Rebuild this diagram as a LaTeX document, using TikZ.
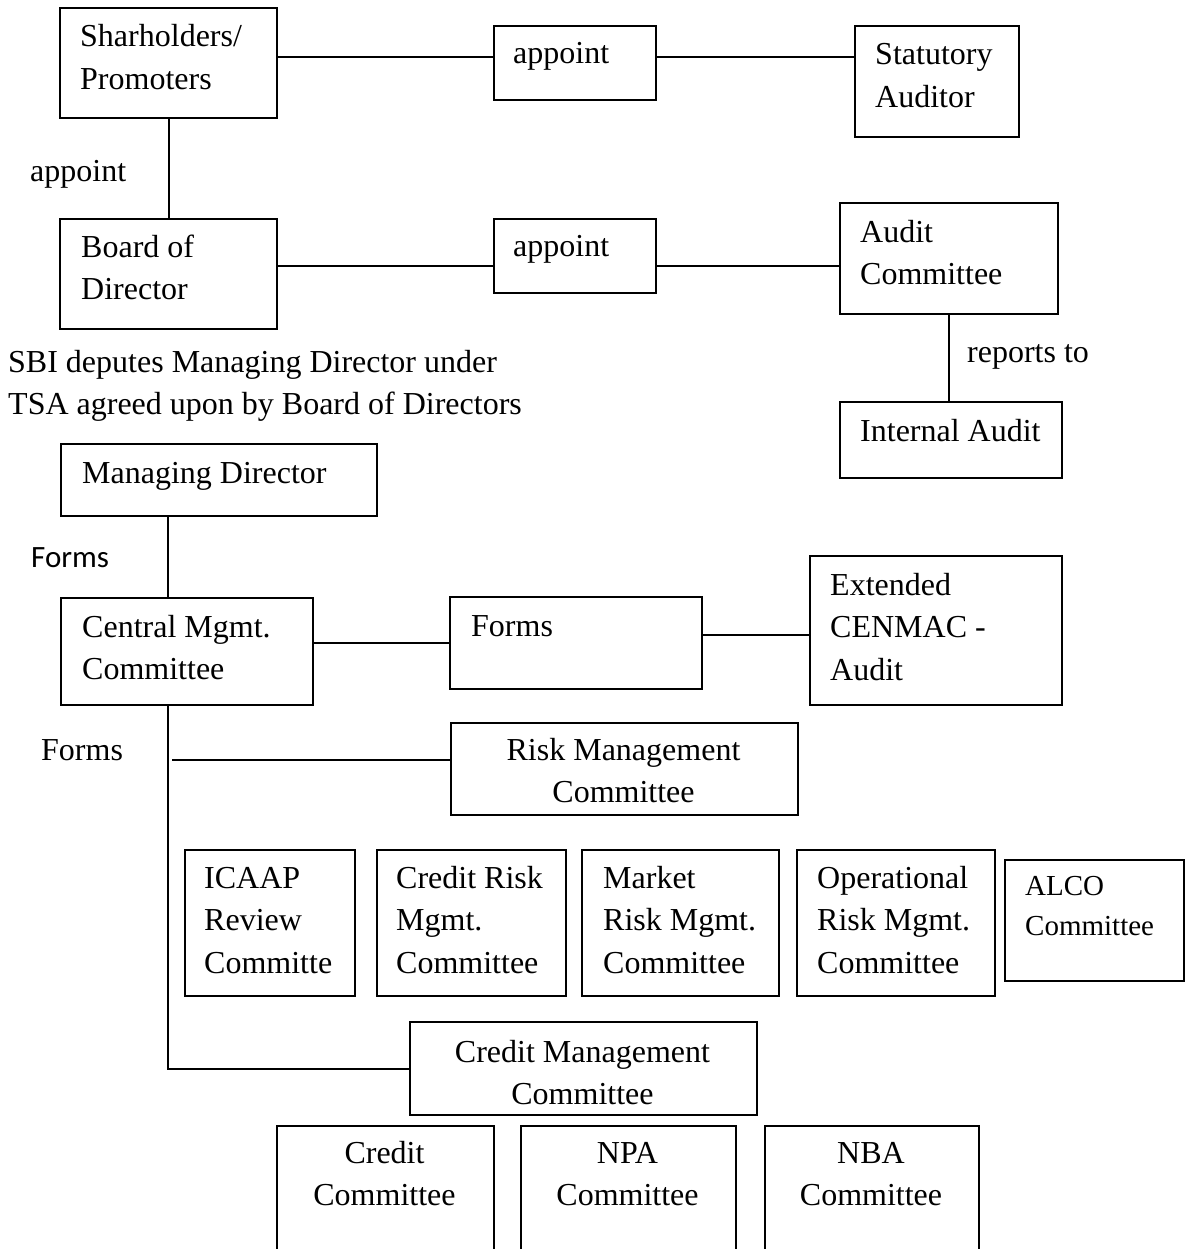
\documentclass[tikz,border=0pt]{standalone}
\usepackage{fontspec}
\setmainfont{Liberation Serif}
\newfontfamily\calfont{Carlito}
\newcommand\fsa{\fontsize{32}{42.5}\selectfont}
\newcommand\fsb{\fontsize{29}{40}\selectfont}
\begin{document}
\begin{tikzpicture}[x=1pt,y=-1pt,
  box/.style={draw,line width=2pt,inner sep=0pt,anchor=north west},
  lnk/.style={line width=2pt},
  txt/.style={anchor=base west,align=left,inner sep=0pt,font=\fsa},
  ctxt/.style={anchor=base,align=center,inner sep=0pt,font=\fsa}]
\useasboundingbox (0,0) rectangle (1189,1249);
% boxes
\node[box,minimum width=217pt,minimum height=110pt] (sh) at (59,7) {};
\node[box,minimum width=162pt,minimum height=74pt] (ap1) at (493,25) {};
\node[box,minimum width=164pt,minimum height=111pt] (sa) at (854,25) {};
\node[box,minimum width=217pt,minimum height=110pt] (bd) at (59,218) {};
\node[box,minimum width=162pt,minimum height=74pt] (ap2) at (493,218) {};
\node[box,minimum width=218pt,minimum height=111pt] (ac) at (839,202) {};
\node[box,minimum width=222pt,minimum height=76pt] (ia) at (839,401) {};
\node[box,minimum width=316pt,minimum height=72pt] (md) at (60,443) {};
\node[box,minimum width=252pt,minimum height=107pt] (cmc) at (60,597) {};
\node[box,minimum width=252pt,minimum height=92pt] (fm) at (449,596) {};
\node[box,minimum width=252pt,minimum height=149pt] (ext) at (809,555) {};
\node[box,minimum width=347pt,minimum height=92pt] (rmc) at (450,722) {};
\node[box,minimum width=170pt,minimum height=146pt] (icaap) at (184,849) {};
\node[box,minimum width=189pt,minimum height=146pt] (crm) at (376,849) {};
\node[box,minimum width=197pt,minimum height=146pt] (mrm) at (581,849) {};
\node[box,minimum width=198pt,minimum height=146pt] (orm) at (796,849) {};
\node[box,minimum width=179pt,minimum height=121pt] (alco) at (1004,859) {};
\node[box,minimum width=347pt,minimum height=93pt] (crmc) at (409,1021) {};
\node[box,minimum width=217pt,minimum height=170pt] (cc) at (276,1125) {};
\node[box,minimum width=215pt,minimum height=170pt] (npa) at (520,1125) {};
\node[box,minimum width=214pt,minimum height=170pt] (nba) at (764,1125) {};
% texts (anchor = baseline of the last line)
\node[txt] (tsh) at (80,89.5) {Sharholders/\\Promoters};
\node[txt] (tap1) at (513,64) {appoint};
\node[txt] (tsa) at (875,107.5) {Statutory\\Auditor};
\node[txt] (tbd) at (81,299.5) {Board of\\Director};
\node[txt] (tap2) at (513,257) {appoint};
\node[txt] (tac) at (860,284.5) {Audit\\Committee};
\node[txt] (tia) at (860,441) {Internal Audit};
\node[txt] (lap) at (30,182) {appoint};
\node[txt] (lrep) at (967,362) {reports to};
\node[txt] (lsbi) at (8,414.5) {SBI deputes Managing Director under\\TSA agreed upon by Board of Directors};
\node[txt] (tmd) at (82,483) {Managing Director};
\node[txt,font=\calfont\fontsize{31}{40}\selectfont] (lf1) at (31,567) {Forms};
\node[txt] (tcmc) at (82,679.5) {Central Mgmt.\\Committee};
\node[txt] (tfm) at (471,636) {Forms};
\node[txt] (text) at (830,680) {Extended\\CENMAC -\\Audit};
\node[txt] (lf2) at (41,760) {Forms};
\node[ctxt] (trmc) at (623.5,802.5) {Risk Management\\Committee};
\node[txt] (ticaap) at (204,973) {ICAAP\\Review\\Committe};
\node[txt] (tcrm) at (396,973) {Credit Risk\\Mgmt.\\Committee};
\node[txt] (tmrm) at (603,973) {Market\\Risk Mgmt.\\Committee};
\node[txt] (torm) at (817,973) {Operational\\Risk Mgmt.\\Committee};
\node[txt,font=\fsb] (talco) at (1025,935) {ALCO\\Committee};
\node[ctxt] (tcrmc) at (582.5,1104.5) {Credit Management\\Committee};
\node[ctxt] (tcc) at (384.5,1205.5) {Credit\\Committee};
\node[ctxt] (tnpa) at (627.5,1205.5) {NPA\\Committee};
\node[ctxt] (tnba) at (871,1205.5) {NBA\\Committee};
% connectors
\draw[lnk] (sh.east |- 0,57) -- (ap1.west |- 0,57);
\draw[lnk] (ap1.east |- 0,57) -- (sa.west |- 0,57);
\draw[lnk] (sh.south) -- (bd.north);
\draw[lnk] (bd.east |- 0,266) -- (ap2.west |- 0,266);
\draw[lnk] (ap2.east |- 0,266) -- (ac.west |- 0,266);
\draw[lnk] (ac.south) -- (ac.south |- ia.north);
\draw[lnk] ([xshift=108pt]md.south west) -- ([xshift=108pt]cmc.north west);
\draw[lnk] (cmc.east |- 0,643) -- (fm.west |- 0,643);
\draw[lnk] (fm.east |- 0,635) -- (ext.west |- 0,635);
\draw[lnk] ([xshift=108pt]cmc.south west) |- (crmc.west);
\coordinate (br) at (172,760);
\draw[lnk] (br) -- (br -| rmc.west);
\end{tikzpicture}
\end{document}
